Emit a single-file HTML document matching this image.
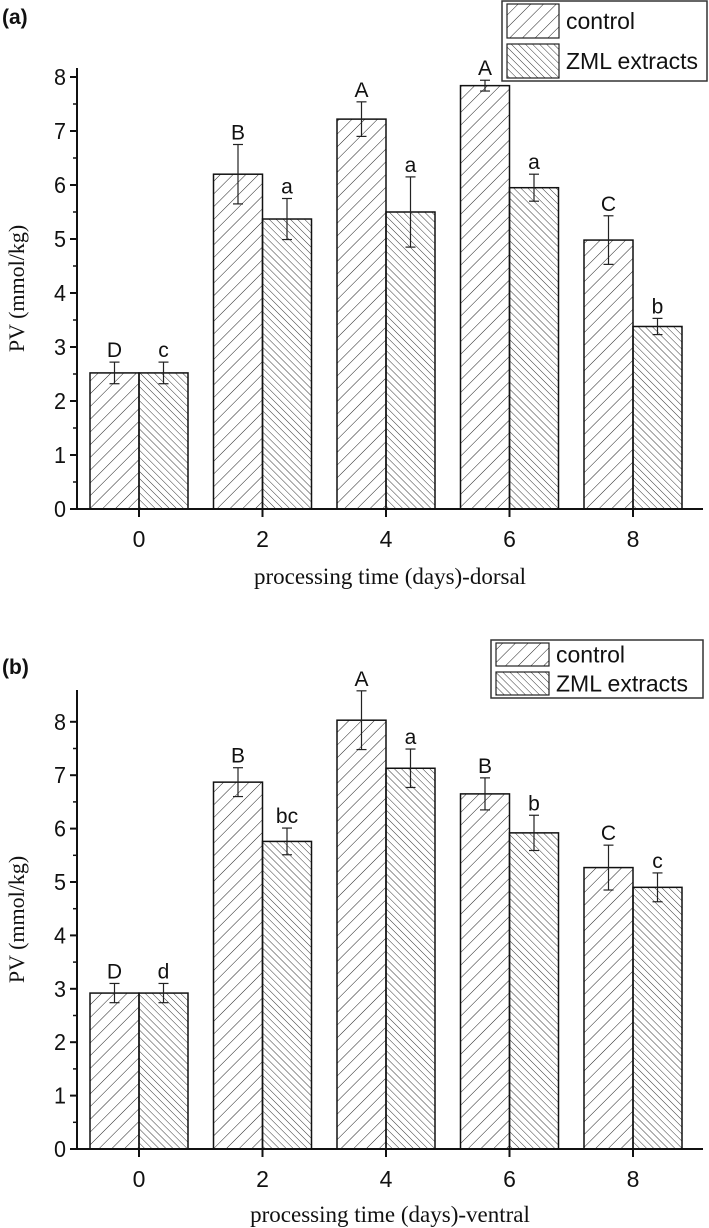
<!DOCTYPE html>
<html><head><meta charset="utf-8"><style>
html,body{margin:0;padding:0;background:#fff;}
svg{display:block;}
text{font-family:"Liberation Sans",Arial,sans-serif;fill:#111;}
.serif{font-family:"Liberation Serif","Times New Roman",serif;}
</style></head><body>
<svg id="chart" width="709" height="1228" viewBox="0 0 709 1228" xmlns="http://www.w3.org/2000/svg">
<defs>
<pattern id="hatchC" patternUnits="userSpaceOnUse" width="9" height="9" patternTransform="rotate(45)">
<line x1="0" y1="0" x2="0" y2="9" stroke="#222" stroke-width="1"/>
</pattern>
<pattern id="hatchZ" patternUnits="userSpaceOnUse" width="5" height="5" patternTransform="rotate(-45)">
<line x1="0" y1="0" x2="0" y2="5" stroke="#222" stroke-width="0.9"/>
</pattern>
</defs>
</svg>
<script>
const categories = ["0","2","4","6","8"];
const yTicks = [0,1,2,3,4,5,6,7,8];
const aControl = [2.52,6.2,7.22,7.84,4.98];
const aControlErr = [0.2,0.55,0.32,0.1,0.45];
const aZML = [2.52,5.37,5.5,5.95,3.38];
const aZMLErr = [0.2,0.38,0.65,0.25,0.15];
const aCtrlLetters = ["D","B","A","A","C"];
const aZMLLetters = ["c","a","a","a","b"];
const bControl = [2.92,6.87,8.03,6.65,5.27];
const bControlErr = [0.18,0.27,0.55,0.3,0.42];
const bZML = [2.92,5.76,7.13,5.92,4.9];
const bZMLErr = [0.18,0.25,0.36,0.33,0.27];
const bCtrlLetters = ["D","B","A","B","C"];
const bZMLLetters = ["d","bc","a","b","c"];

const svg = document.getElementById('chart');
const NS = "http://www.w3.org/2000/svg";
function mk(tag, attrs, parent){
  const e = document.createElementNS(NS, tag);
  for (const k in attrs) e.setAttribute(k, attrs[k]);
  (parent||svg).appendChild(e);
  return e;
}

function panel(cfg){
  const g = mk('g', {});
  
  
  const x0 = 77, xEnd = 703;
  const base = cfg.base, ppu = cfg.ppu;
  const yS = v => base - v * ppu;
  const xC = i => 139 + i * 123.5;
  const bw = 49;
  const ya = mk('line', {x1:x0, y1:cfg.top, x2:x0, y2:base, stroke:'#111', 'stroke-width':2}, g);
  
  
  yTicks.forEach(t => {
    const y = yS(t);
    mk('line', {x1:x0-7, y1:y, x2:x0, y2:y, stroke:'#111', 'stroke-width':2}, g);
    if (t < 8) mk('line', {x1:x0-4, y1:yS(t+0.5), x2:x0, y2:yS(t+0.5), stroke:'#111', 'stroke-width':1.5}, g);
    const tl = mk('text', {x:x0-11, y:y+8, 'font-size':23, 'text-anchor':'end', textLength:12, lengthAdjust:'spacingAndGlyphs'}, g);
    tl.textContent = t;
    
    
  });
  categories.forEach((c, i) => {
    const xc = xC(i);
    [[cfg.ctrl, cfg.ctrlErr, cfg.ctrlL, 'url(#hatchC)', xc-bw, 'control'],
     [cfg.zml, cfg.zmlErr, cfg.zmlL, 'url(#hatchZ)', xc, 'zml']].forEach(s => {
      const v = s[0][i], e = s[1][i];
      const r = mk('rect', {x:s[4], y:yS(v), width:bw, height:base-yS(v), fill:s[3], stroke:'#111', 'stroke-width':1.5}, g);
      
      
      const ex = s[4] + bw/2;
      const eg = mk('g', {stroke:'#222', 'stroke-width':1.2}, g);
      
      
      mk('line', {x1:ex, y1:yS(v+e), x2:ex, y2:yS(v-e)}, eg);
      mk('line', {x1:ex-5, y1:yS(v+e), x2:ex+5, y2:yS(v+e)}, eg);
      mk('line', {x1:ex-5, y1:yS(v-e), x2:ex+5, y2:yS(v-e)}, eg);
      const lt = mk('text', {x:ex, y:yS(v+e)-5, 'font-size':21, 'text-anchor':'middle'}, g);
      lt.textContent = s[2][i];
      
      
    });
    mk('line', {x1:xc, y1:base, x2:xc, y2:base+8, stroke:'#111', 'stroke-width':2}, g);
    const xl = mk('text', {x:xc, y:base+38, 'font-size':23, 'text-anchor':'middle'}, g);
    xl.textContent = c;
    
    
  });
  const xa = mk('line', {x1:x0-1, y1:base, x2:xEnd, y2:base, stroke:'#111', 'stroke-width':2}, g);
  
  
  const xt = mk('text', {x:390, y:cfg.xTitleY, 'font-size':23, 'text-anchor':'middle', 'class':'serif'}, g);
  xt.textContent = cfg.xTitle;
  
  
  const ymid = (cfg.top + base) / 2;
  const yt = mk('text', {x:0, y:0, 'font-size':22, 'text-anchor':'middle', 'class':'serif', transform:'translate(24,' + ymid + ') rotate(-90)'}, g);
  yt.textContent = 'PV (mmol/kg)';
  
  
  const pl = mk('text', {x:2, y:cfg.labelY, 'font-size':21, 'font-weight':'bold'}, g);
  pl.textContent = cfg.label;
  
  
  const L = cfg.legend;
  const lg = mk('g', {}, g);
  
  
  mk('rect', {x:L.x, y:L.y, width:L.w, height:L.h, fill:'#fff', stroke:'#333', 'stroke-width':1.5}, lg);
  const rh = L.h / 2;
  [['url(#hatchC)','control'],['url(#hatchZ)','ZML extracts']].forEach((s, k) => {
    const ry = L.y + k*rh;
    const sw = mk('rect', {x:L.x+5, y:ry+3, width:L.sw, height:rh-6, fill:s[0], stroke:'#222', 'stroke-width':1.2}, lg);
    
    
    const tx = mk('text', {x:L.x+L.sw+12, y:ry+rh/2+8, 'font-size':23}, lg);
    tx.textContent = s[1];
    
    
  });
}

panel({id:'a', base:509, ppu:54, top:68, ctrl:aControl, ctrlErr:aControlErr, zml:aZML, zmlErr:aZMLErr,
  ctrlL:aCtrlLetters, zmlL:aZMLLetters, xTitle:'processing time (days)-dorsal', xTitleY:584,
  label:'(a)', labelY:24, legend:{x:502, y:1, w:205, h:80, sw:52}});
panel({id:'b', base:1149, ppu:53.4, top:690, ctrl:bControl, ctrlErr:bControlErr, zml:bZML, zmlErr:bZMLErr,
  ctrlL:bCtrlLetters, zmlL:bZMLLetters, xTitle:'processing time (days)-ventral', xTitleY:1222,
  label:'(b)', labelY:674, legend:{x:491, y:640, w:212, h:58, sw:53}});
</script>
</body></html>
